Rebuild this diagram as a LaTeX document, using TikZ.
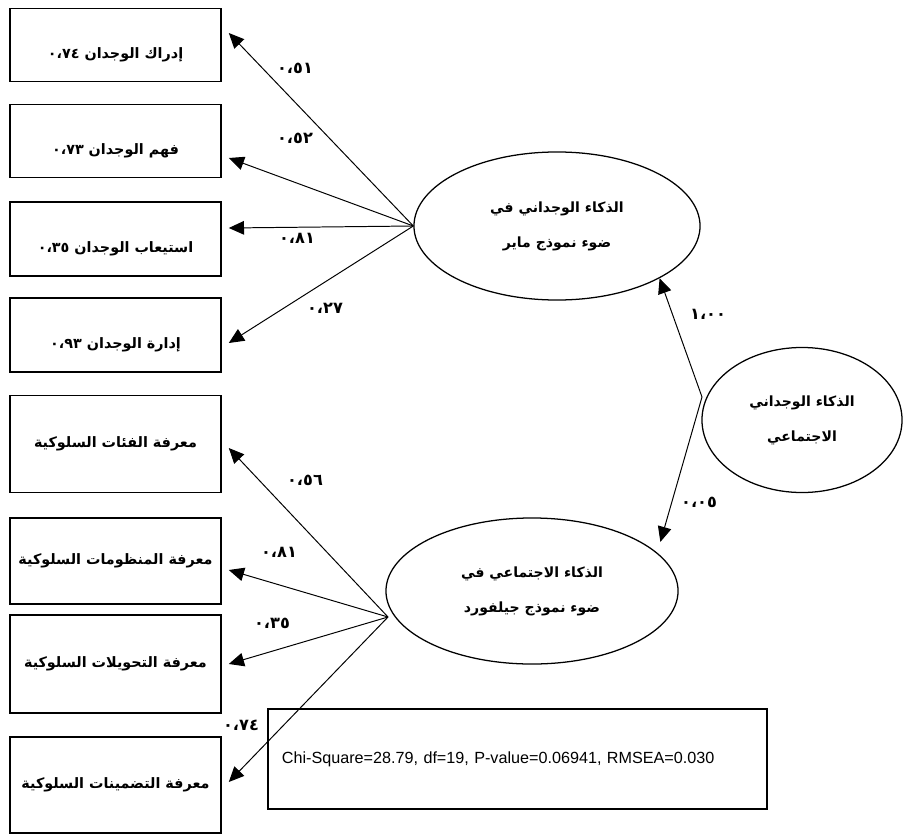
\documentclass[tikz,border=0pt]{standalone}
\usepackage{fontspec}
\setmainfont{Liberation Sans}
\newfontfamily\arabicfont[Script=Arabic]{DejaVu Sans}
\TeXXeTstate=1
\usepackage{tikz}
\usetikzlibrary{shapes.geometric, arrows.meta}
\newcommand{\artxt}[1]{{\arabicfont\bfseries\beginR #1\endR}}

\begin{document}
\begin{tikzpicture}[x=0.025cm, y=-0.025cm,
  box/.style={draw, line width=1.1pt, minimum width=5.275cm, inner sep=0pt, font=\fontsize{10.2}{13}\selectfont},
  lowtext/.style={text height=0.85cm, text depth=0.2cm},
  latent/.style={draw, ellipse, line width=0.9pt, inner sep=0pt, align=center, font=\fontsize{10}{25}\selectfont},
  path/.style={-{Triangle[length=3.8mm,width=3.4mm]}, line width=0.7pt},
  coef/.style={font=\fontsize{11.5}{13}\selectfont}]
\useasboundingbox (0,0) rectangle (905,834);
% observed variables
\node[box, lowtext, minimum height=1.825cm] (b1) at (115.5,45) {\artxt{إدراك الوجدان ٠،٧٤}};
\node[box, lowtext, minimum height=1.825cm] (b2) at (115.5,141) {\artxt{فهم الوجدان ٠،٧٣}};
\node[box, lowtext, minimum height=1.85cm] (b3) at (115.5,239) {\artxt{استيعاب الوجدان ٠،٣٥}};
\node[box, lowtext, minimum height=1.85cm] (b4) at (115.5,335) {\artxt{إدارة الوجدان ٠،٩٣}};
\node[box, minimum height=2.425cm] (b5) at (115.5,444) {\artxt{معرفة الفئات السلوكية}};
\node[box, minimum height=2.15cm] (b6) at (115.5,561) {\artxt{معرفة المنظومات السلوكية}};
\node[box, minimum height=2.45cm] (b7) at (115.5,664) {\artxt{معرفة التحويلات السلوكية}};
\node[box, minimum height=2.4cm] (b8) at (115.5,785) {\artxt{معرفة التضمينات السلوكية}};
% latent variables
\node[latent, minimum width=7.15cm, minimum height=3.7cm] (e1) at (557,226)
  {\artxt{الذكاء الوجداني في}\\\artxt{ضوء نموذج ماير}};
\node[latent, minimum width=5cm, minimum height=3.625cm] (e2) at (802,420)
  {\artxt{الذكاء الوجداني}\\\artxt{الاجتماعي}};
\node[latent, minimum width=7.3cm, minimum height=3.65cm] (e3) at (532,591)
  {\artxt{الذكاء الاجتماعي في}\\\artxt{ضوء نموذج جيلفورد}};
\coordinate (s2) at (702,397);
\coordinate (s3) at (388,617);
% loadings
\draw[path] (e1.west) -- ([xshift=0.175cm, yshift=0.3cm]b1.east);
\draw[path] (e1.west) -- ([xshift=0.175cm, yshift=-0.425cm]b2.east);
\draw[path] (e1.west) -- ([xshift=0.175cm, yshift=0.275cm]b3.east);
\draw[path] (e1.west) -- ([xshift=0.175cm, yshift=-0.2cm]b4.east);
\draw[path] (s3) -- ([xshift=0.175cm, yshift=-0.1cm]b5.east);
\draw[path] (s3) -- ([xshift=0.175cm, yshift=-0.225cm]b6.east);
\draw[path] (s3) -- ([xshift=0.175cm]b7.east);
\draw[path] (s3) -- ([xshift=0.175cm, yshift=0.075cm]b8.east);
\draw[path] (s2) -- (e1.-27);
\draw[path, shorten >=0.28cm] (s2) -- (e3.17);
% coefficients
\node[coef] (l1) at (295,68) {\artxt{٠،٥١}};
\node[coef] (l2) at (295,138) {\artxt{٠،٥٢}};
\node[coef] (l3) at (297,238) {\artxt{٠،٨١}};
\node[coef] (l4) at (325,308) {\artxt{٠،٢٧}};
\node[coef] (l5) at (305,480) {\artxt{٠،٥٦}};
\node[coef] (l6) at (279,552) {\artxt{٠،٨١}};
\node[coef] (l7) at (272,623) {\artxt{٠،٣٥}};
\node[coef] (l8) at (241,725) {\artxt{٠،٧٤}};
\node[coef] (l9) at (708,314) {\artxt{١،٠٠}};
\node[coef] (l10) at (699,502) {\artxt{٠،٠٥}};
% fit indices
\node[draw, line width=1.1pt, minimum height=2.5cm, inner xsep=0.35cm, text width=11.775cm, align=left,
  font=\fontsize{11.5}{14}\selectfont] (stats) at (517.5,759)
  {Chi-Square=28.79, df=19, P-value=0.06941, RMSEA=0.030};
\end{tikzpicture}
\end{document}
